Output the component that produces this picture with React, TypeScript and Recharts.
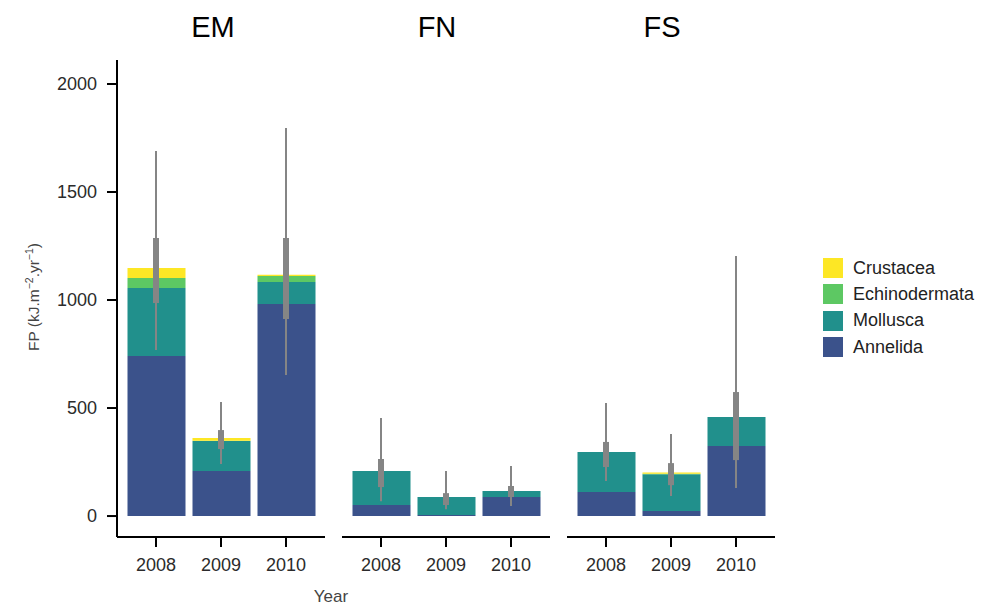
import React from 'react';
import { ComposedChart, Bar, Line, XAxis, YAxis, ErrorBar } from 'recharts';

// years on the x axis of every panel
const years = ['2008', '2009', '2010'];
const sites = ['EM', 'FN', 'FS'];

// stacked FP values per taxon, per site (2008, 2009, 2010)
const annelida = { EM: [741, 208, 981], FN: [51, 5, 88], FS: [111, 23, 324] };
const mollusca = { EM: [315, 139, 102], FN: [157, 83, 28], FS: [185, 171, 134] };
const echinodermata = { EM: [46, 2, 28], FN: [0, 0, 0], FS: [0, 2, 0] };
const crustacea = { EM: [46, 12, 6], FN: [0, 0, 0], FS: [0, 5, 0] };

// interval of the total: outer (thin) and inner (thick) [low, high]
const outerCI = {
  EM: [[769, 1690], [241, 528], [653, 1796]],
  FN: [[69, 454], [32, 208], [46, 232]],
  FS: [[162, 523], [93, 380], [130, 1204]],
};
const innerCI = {
  EM: [[986, 1287], [310, 398], [912, 1287]],
  FN: [[134, 264], [51, 106], [88, 139]],
  FS: [[227, 343], [143, 245], [259, 574]],
};

const yTicks = [0, 500, 1000, 1500, 2000];

const taxa = [
  { key: 'annelida', name: 'Annelida', color: '#3B528B' },
  { key: 'mollusca', name: 'Mollusca', color: '#21908C' },
  { key: 'echinodermata', name: 'Echinodermata', color: '#5DC863' },
  { key: 'crustacea', name: 'Crustacea', color: '#FDE725' },
];

const buildRows = (site: string) =>
  years.map((year, i) => {
    const a = annelida[site][i];
    const m = mollusca[site][i];
    const e = echinodermata[site][i];
    const c = crustacea[site][i];
    const total = a + m + e + c;
    const [ol, oh] = outerCI[site][i];
    const [il, ih] = innerCI[site][i];
    return {
      year,
      annelida: a,
      mollusca: m,
      echinodermata: e,
      crustacea: c,
      total,
      outer: [total - ol, oh - total],
      inner: [total - il, ih - total],
    };
  });

const AXIS = { stroke: '#000', strokeWidth: 2 };
const TICK_TEXT = { fill: '#2b2b2b', fontSize: 18 };

const Panel = ({ site, left, showY }: { site: string; left: number; showY: boolean }) => {
  const rows = buildRows(site);
  return (
    <div style={{ position: 'absolute', left, top: 0 }}>
      <ComposedChart
        width={showY ? 325 : 208}
        height={607}
        data={rows}
        margin={{ top: 60, right: 0, bottom: 0, left: 0 }}
      >
        <XAxis
          dataKey="year"
          height={70}
          padding={{ left: 6.5, right: 6.5 }}
          axisLine={AXIS}
          tickLine={AXIS}
          tickSize={10}
          tickMargin={11}
          tick={TICK_TEXT}
        />
        <YAxis
          hide={!showY}
          width={117}
          type="number"
          domain={[-97, 2111]}
          allowDataOverflow
          ticks={yTicks}
          axisLine={AXIS}
          tickLine={AXIS}
          tickSize={10}
          tickMargin={10}
          tick={TICK_TEXT}
        />
        {taxa.map((t) => (
          <Bar
            key={t.key}
            dataKey={t.key}
            name={t.name}
            stackId="fp"
            fill={t.color}
            barSize={58}
            isAnimationActive={false}
          />
        ))}
        <Line
          dataKey="total"
          stroke="none"
          dot={false}
          activeDot={false}
          isAnimationActive={false}
        >
          <ErrorBar dataKey="outer" width={0} stroke="#858585" strokeWidth={2} direction="y" />
          <ErrorBar dataKey="inner" width={0} stroke="#858585" strokeWidth={6} direction="y" />
        </Line>
      </ComposedChart>
    </div>
  );
};

const panelLefts = [0, 342, 567];
const titleCenters = [213, 437, 662];

export default function App() {
  return (
    <div
      style={{
        position: 'absolute',
        left: 0,
        top: 0,
        width: 986,
        height: 607,
        background: '#fff',
        fontFamily: '"Liberation Sans", Arial, sans-serif',
        overflow: 'hidden',
      }}
    >
      {sites.map((s, i) => (
        <Panel key={s} site={s} left={panelLefts[i]} showY={i === 0} />
      ))}

      {sites.map((s, i) => (
        <div
          key={'t' + s}
          style={{
            position: 'absolute',
            left: titleCenters[i] - 50,
            width: 100,
            top: 7,
            textAlign: 'center',
            fontSize: 29,
            color: '#000',
            lineHeight: '40px',
          }}
        >
          {s}
        </div>
      ))}

      <div
        style={{
          position: 'absolute',
          left: 29 - 100,
          top: 297 - 10,
          width: 200,
          height: 20,
          lineHeight: '20px',
          textAlign: 'center',
          transform: 'rotate(-90deg)',
          fontSize: 15.5,
          color: '#444',
        }}
      >
        FP (kJ.m<sup style={{ fontSize: 10.5 }}>−2</sup>.yr<sup style={{ fontSize: 10.5 }}>−1</sup>)
      </div>

      <div
        style={{
          position: 'absolute',
          left: 281,
          width: 100,
          top: 587,
          textAlign: 'center',
          fontSize: 17,
          lineHeight: '20px',
          color: '#444',
        }}
      >
        Year
      </div>

      <div style={{ position: 'absolute', left: 823, top: 255 }}>
        {[...taxa].reverse().map((t) => (
          <div key={t.key} style={{ display: 'flex', alignItems: 'center', height: 26.3 }}>
            <div style={{ width: 20, height: 20, background: t.color }} />
            <span style={{ marginLeft: 10, fontSize: 18, color: '#222' }}>{t.name}</span>
          </div>
        ))}
      </div>
    </div>
  );
}
